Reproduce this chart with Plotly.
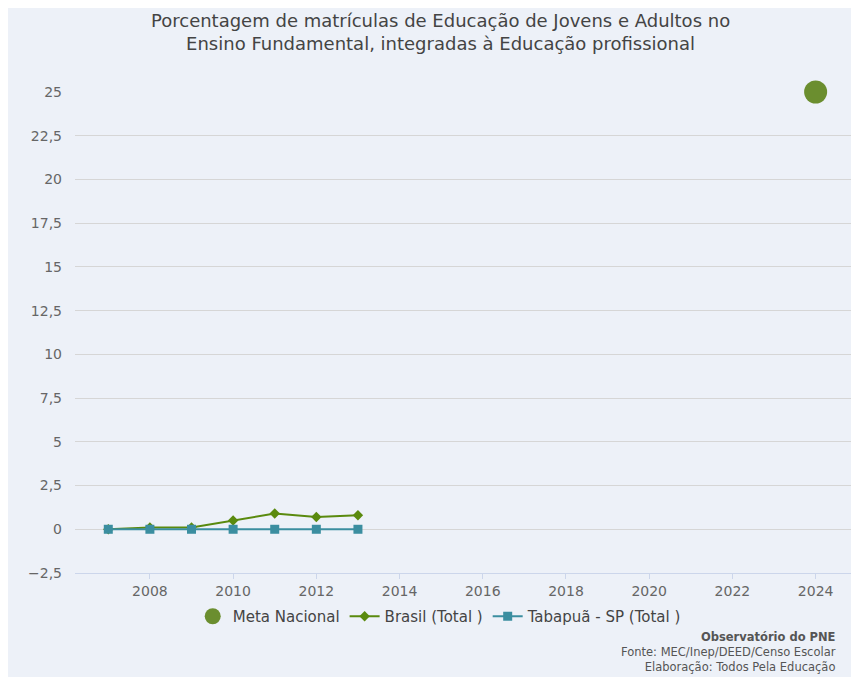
import plotly.graph_objects as go

years = [2007, 2008, 2009, 2010, 2011, 2012, 2013]
brasil = [0.0, 0.1, 0.1, 0.5, 0.9, 0.7, 0.8]
tabapua = [0.0, 0.0, 0.0, 0.0, 0.0, 0.0, 0.0]
meta_year = [2024]
meta_val = [25]
x_ticks = [2008, 2010, 2012, 2014, 2016, 2018, 2020, 2022, 2024]
y_ticks = [-2.5, 0, 2.5, 5, 7.5, 10, 12.5, 15, 17.5, 20, 22.5, 25]

FONT = "DejaVu Sans"
W, H = 851, 669
ML, MR, MT, MB = 67, 8, 84, 104
PH = H - MT - MB
PW = W - ML - MR

fig = go.Figure()
fig.add_trace(go.Scatter(x=meta_year, y=meta_val, mode="markers", name="Meta Nacional",
                         marker=dict(symbol="circle", size=23, color="#6b8e2f"), cliponaxis=False))
fig.add_trace(go.Scatter(x=years, y=brasil, mode="lines+markers", name="Brasil (Total )",
                         line=dict(color="#5a8a0e", width=2),
                         marker=dict(symbol="diamond", size=8, color="#5a8a0e"), cliponaxis=False))
fig.add_trace(go.Scatter(x=years, y=tabapua, mode="lines+markers", name="Tabapuã - SP (Total )",
                         line=dict(color="#3b8ea0", width=2),
                         marker=dict(symbol="square", size=9, color="#3b8ea0"), cliponaxis=False))

fig.update_layout(
    width=W, height=H,
    paper_bgcolor="#edf1f8", plot_bgcolor="#edf1f8",
    margin=dict(l=ML, r=MR, t=MT, b=MB),
    separators=",.",
    font=dict(family=FONT, color="#555555", size=13),
    showlegend=True,
    legend=dict(orientation="h", x=0.47, xanchor="center", y=-27 / PH, yanchor="top",
                font=dict(family=FONT, size=15, color="#444444"), bgcolor="rgba(0,0,0,0)",
                itemsizing="trace"),
    xaxis=dict(range=[2006.2, 2024.85], tickvals=x_ticks, showgrid=False, zeroline=False,
               showline=True, linecolor="#ccd6eb", linewidth=1, ticks="outside", ticklen=5,
               tickcolor="#ccd6eb", tickfont=dict(size=14, color="#666666")),
    yaxis=dict(range=[-2.5, 25], tickvals=y_ticks, showgrid=True, gridcolor="#d6d6d6",
               zeroline=False, showline=False, ticks="", ticklabelstandoff=12,
               tickfont=dict(size=14, color="#666666")),
)

# title as annotation (centred at x≈440 px of the page)
title_x = (440 - 8 - ML) / PW
fig.add_annotation(text="Porcentagem de matrículas de Educação de Jovens e Adultos no<br>Ensino Fundamental, integradas à Educação profissional",
                   xref="paper", yref="paper", x=title_x, y=1, xanchor="center", yanchor="bottom",
                   yshift=36, showarrow=False, align="center",
                   font=dict(family=FONT, size=18, color="#444444"))

credits = "<b>Observatório do PNE</b><br>Fonte: MEC/Inep/DEED/Censo Escolar<br>Elaboração: Todos Pela Educação"
fig.add_annotation(text=credits, xref="paper", yref="paper", x=1.0, y=-102 / PH,
                   xanchor="right", yanchor="bottom", showarrow=False, xshift=-14,
                   align="right", borderpad=0,
                   font=dict(family=FONT, size=11.5, color="#555555"))

fig.write_html("out.html")
